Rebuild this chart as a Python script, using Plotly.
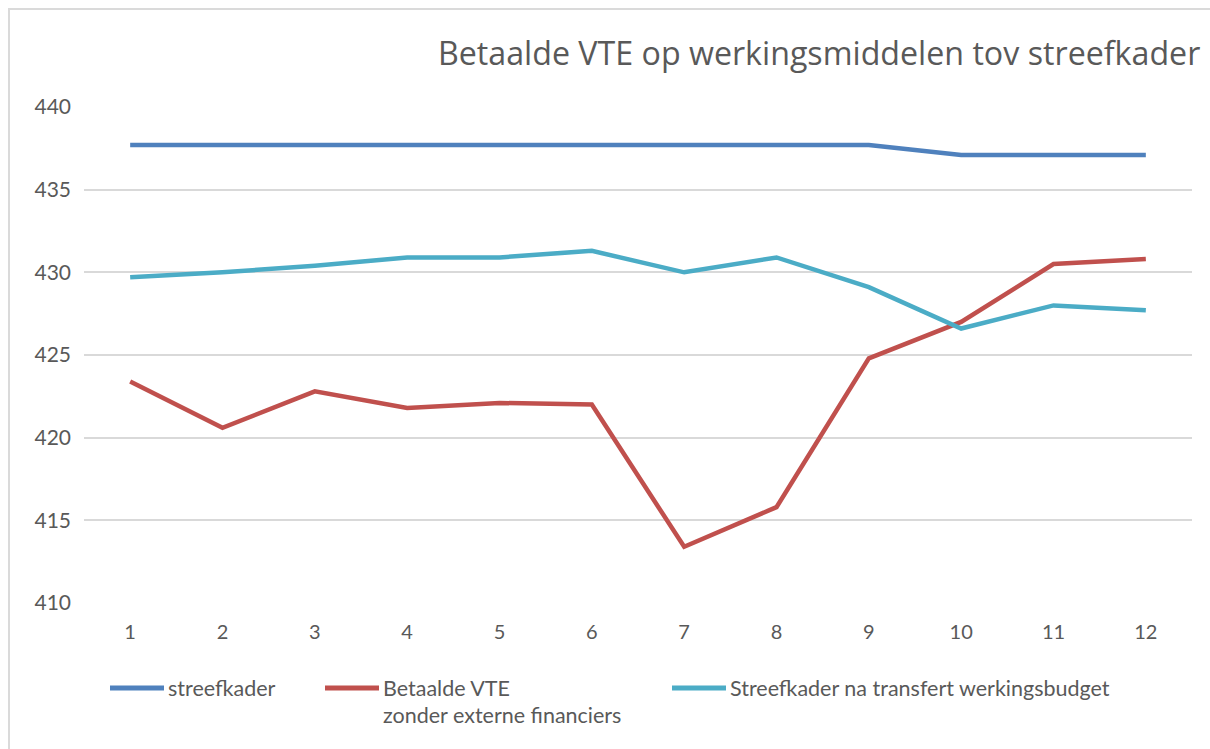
import plotly.graph_objects as go

months = [1, 2, 3, 4, 5, 6, 7, 8, 9, 10, 11, 12]
streefkader = [437.7, 437.7, 437.7, 437.7, 437.7, 437.7, 437.7, 437.7, 437.7, 437.1, 437.1, 437.1]
betaalde_vte = [423.4, 420.6, 422.8, 421.8, 422.1, 422.0, 413.4, 415.8, 424.8, 427.0, 430.5, 430.8]
na_transfert = [429.7, 430.0, 430.4, 430.9, 430.9, 431.3, 430.0, 430.9, 429.1, 426.6, 428.0, 427.7]

series_names = ["streefkader", "Betaalde VTE<br>zonder externe financiers", "Streefkader na transfert werkingsbudget"]
colors = ["#4F81BD", "#C0504D", "#4BACC6"]
y_ticks = [410, 415, 420, 425, 430, 435, 440]
title = "Betaalde VTE op werkingsmiddelen tov streefkader"

FONT = "Lato, 'Open Sans', sans-serif"
TFONT = "'Open Sans', Lato, sans-serif"
GREY = "#595959"

fig = go.Figure()
for name, vals, col in zip(series_names, [streefkader, betaalde_vte, na_transfert], colors):
    fig.add_trace(go.Scatter(x=months, y=vals, mode="lines", name=name,
                             line=dict(color=col, width=4.5), showlegend=False))

W, H = 1210, 749
L, R, T, B = 84, 18, 107, 146
pw, ph = W - L - R, H - T - B

def px_x(p):
    return (p - L) / pw

def px_y(p):
    return (H - B - p) / ph

# chart border (top-left visible)
fig.add_shape(type="rect", xref="paper", yref="paper",
              x0=px_x(9), y0=px_y(800), x1=px_x(1300), y1=px_y(9),
              line=dict(color="#DADADA", width=2), fillcolor="rgba(0,0,0,0)", layer="below")

# manual legend
legend_items = [(110, 688), (325, 688), (672, 688)]
for (lx, ly), name, col in zip(legend_items, series_names, colors):
    fig.add_shape(type="line", xref="paper", yref="paper",
                  x0=px_x(lx), x1=px_x(lx + 54), y0=px_y(ly), y1=px_y(ly),
                  line=dict(color=col, width=5))
    for i, line_txt in enumerate(name.split("<br>")):
        fig.add_annotation(xref="paper", yref="paper", x=px_x(lx + 56), y=px_y(ly + 27 * i),
                           xanchor="left", yanchor="middle", align="left", showarrow=False,
                           text=line_txt, font=dict(family=FONT, size=21.5, color=GREY))

fig.add_annotation(xref="paper", yref="paper", x=px_x(436), y=px_y(52),
                   xanchor="left", yanchor="middle", showarrow=False, text=title,
                   font=dict(family=TFONT, size=32.2, color=GREY))

fig.update_layout(
    width=W, height=H,
    margin=dict(l=L, r=R, t=T, b=B),
    paper_bgcolor="white", plot_bgcolor="white",
    font=dict(family=FONT, size=20, color=GREY),
    showlegend=False,
)
fig.update_xaxes(range=[0.5, 12.5], tickmode="array", tickvals=months,
                 ticktext=[str(m) for m in months], showgrid=False, zeroline=False,
                 showline=False, ticks="", ticklabelstandoff=15,
                 tickfont=dict(family=FONT, size=20, color=GREY))
fig.update_yaxes(range=[410, 440], tickmode="array", tickvals=y_ticks,
                 showgrid=True, gridcolor="#D9D9D9", gridwidth=1.5, zeroline=False,
                 showline=False, ticks="", ticklabelstandoff=12,
                 tickfont=dict(family=FONT, size=21, color=GREY))

fig.write_html("out.html", config={"displayModeBar": False},
               post_script="document.body.style.margin='0';document.body.style.overflow='hidden';")
